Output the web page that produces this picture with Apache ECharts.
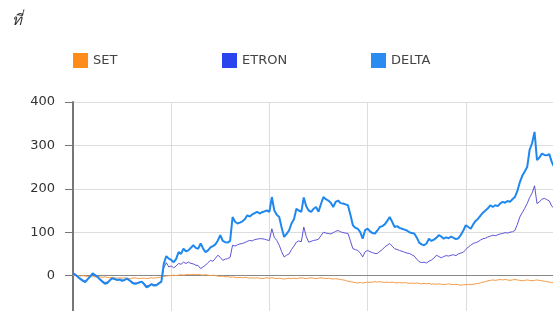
<!DOCTYPE html>
<html>
<head>
<meta charset="utf-8">
<script src="https://cdn.jsdelivr.net/npm/echarts@6/dist/echarts.min.js"></script>
<style>
html,body{margin:0;padding:0;background:#fff;}
#c{width:553px;height:311px;}
</style>
</head>
<body>
<div id="c"></div>
<script>
const titleText = 'ที่';
const seriesNames = ['SET', 'ETRON', 'DELTA'];
const yTicks = [-100, 0, 100, 200, 300, 400];

const SET = [
  0,1,0,-1,0,-1,-2,-1,-2,-3,
  -2,-3,-4,-3,-4,-5,-4,-5,-6,-5,
  -6,-5,-6,-7,-6,-5,-6,-7,-6,-6,
  -7,-6,-5,-6,-5,-4,-3,-2,-1,0,
  0,1,0,1,2,1,2,3,2,3,
  2,3,2,1,2,1,0,1,0,-1,
  -2,-1,-3,-2,-4,-3,-4,-5,-4,-5,
  -4,-5,-6,-5,-6,-5,-6,-7,-6,-5,
  -6,-5,-6,-7,-6,-7,-8,-7,-6,-7,
  -6,-7,-6,-5,-6,-7,-6,-5,-6,-7,
  -6,-5,-6,-7,-6,-7,-8,-7,-8,-9,
  -10,-11,-13,-14,-15,-16,-17,-16,-17,-16,
  -15,-16,-15,-14,-15,-14,-15,-16,-15,-16,
  -15,-16,-17,-16,-17,-16,-17,-18,-17,-18,
  -17,-18,-19,-18,-19,-18,-20,-19,-20,-19,
  -20,-21,-20,-19,-20,-21,-20,-21,-22,-21,
  -21,-20,-21,-20,-19,-18,-17,-15,-14,-12,
  -11,-10,-11,-10,-9,-10,-9,-10,-11,-10,
  -9,-10,-11,-12,-11,-10,-11,-12,-11,-10,
  -11,-12,-13,-14,-15,-16,-17,-16,-17,-16,
  -17];

const ETRON = [
  3,1,-2,-6,-10,-13,-7,-3,3,0,
  -4,-8,-12,-16,-15,-10,-7,-8,-9,-9,
  -11,-10,-8,-10,-14,-17,-17,-15,-14,-18,
  -24,-22,-19,-21,-21,-17,-13,18,30,20,
  22,18,22,28,26,31,28,31,28,27,
  24,23,16,20,24,30,35,33,40,47,
  42,35,38,39,42,70,68,71,73,74,
  76,79,81,80,83,84,85,85,84,82,
  81,108,88,81,70,55,43,47,50,60,
  68,77,80,78,112,90,77,79,81,82,
  84,92,100,98,97,96,99,102,104,101,
  99,98,97,80,62,60,58,52,43,55,
  58,55,53,51,51,56,60,66,70,74,
  68,62,60,58,56,54,52,51,48,45,
  38,32,30,31,29,33,36,40,47,44,
  41,44,46,45,47,48,46,50,52,54,
  60,66,70,74,76,78,82,85,86,89,
  91,93,92,94,96,97,99,98,100,101,
  104,118,135,145,155,166,180,190,207,166,
  170,176,178,175,172,160,155,158,156,160,
  157];

const DELTA = [
  5,2,-3,-8,-12,-15,-8,-2,5,1,
  -3,-9,-14,-19,-17,-11,-6,-8,-10,-9,
  -12,-10,-7,-11,-16,-19,-18,-16,-14,-20,
  -27,-24,-20,-23,-22,-18,-14,28,45,39,
  36,31,38,54,50,62,56,58,64,70,
  64,62,74,62,54,58,65,68,72,81,
  93,80,77,76,80,135,124,120,122,125,
  130,139,136,141,144,147,143,146,148,150,
  147,181,150,140,135,110,89,96,104,120,
  130,154,150,147,180,160,150,147,154,158,
  147,165,181,176,173,168,158,170,173,167,
  166,164,162,140,116,110,108,100,85,105,
  108,102,98,97,104,112,114,118,126,135,
  124,112,114,110,108,106,104,100,98,97,
  88,76,72,70,74,85,80,83,87,93,
  90,85,88,86,90,87,84,86,94,104,
  116,112,108,118,126,131,138,145,150,155,
  162,158,162,160,166,170,168,172,170,176,
  181,195,215,230,240,250,290,305,331,266,
  272,281,278,277,280,262,250,255,252,258,
  254];

const categories = DELTA.map((_, i) => String(i));
const colors = {SET: '#ff8c1a', ETRON: '#2a45ee', DELTA: '#2a8cf0'};
const lineColors = {SET: '#f39a45', ETRON: '#5d55d8', DELTA: '#1f88ee'};
const dataMap = {SET, ETRON, DELTA};
const legendLeft = [73, 222, 371];

const chart = echarts.init(document.getElementById('c'), null, {renderer: 'canvas'});
chart.setOption({
  animation: false,
  title: {
    text: titleText, left: 7, top: 8,
    textStyle: {fontSize: 15, fontStyle: 'italic', fontWeight: 'normal', color: '#333', fontFamily: 'Noto Sans, DejaVu Sans, sans-serif'}
  },
  legend: seriesNames.map((n, i) => ({
    data: [{name: n, itemStyle: {color: colors[n]}}],
    left: legendLeft[i], top: 53, padding: 0,
    icon: 'rect', itemWidth: 15, itemHeight: 15, itemGap: 5,
    textStyle: {fontFamily: 'DejaVu Sans', fontSize: 13, color: '#444'}
  })),
  grid: {left: 73, top: 102, width: 491, height: 217, containLabel: false, outerBoundsMode: 'none'},
  xAxis: {
    type: 'category', data: categories, boundaryGap: false,
    axisLine: {onZero: true, lineStyle: {color: '#888', width: 1}},
    axisTick: {show: false}, axisLabel: {show: false},
    splitLine: {show: true, interval: (i) => i % 40 === 0, lineStyle: {color: '#ddd', width: 1}}
  },
  yAxis: {
    type: 'value', min: yTicks[0], max: yTicks[yTicks.length - 1], interval: 100,
    axisLine: {show: true, lineStyle: {color: '#777', width: 2}},
    axisTick: {show: true, length: 8, lineStyle: {color: '#777', width: 1}},
    axisLabel: {margin: 18, fontFamily: 'DejaVu Sans', fontSize: 13, color: '#333'},
    splitLine: {show: true, lineStyle: {color: '#ddd', width: 1}}
  },
  series: seriesNames.map(n => ({
    name: n, type: 'line', data: dataMap[n], symbol: 'none',
    itemStyle: {color: colors[n]},
    lineStyle: {color: lineColors[n], width: n === 'DELTA' ? 2 : 1}
  }))
});
</script>
</body>
</html>
